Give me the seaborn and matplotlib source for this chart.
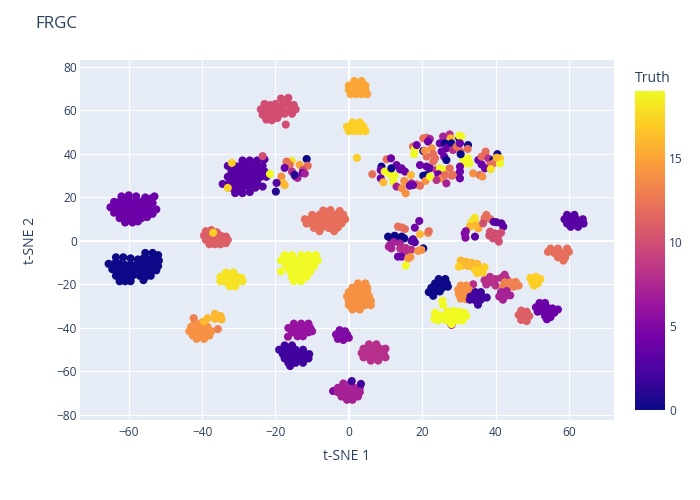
import matplotlib
matplotlib.use("Agg")
import matplotlib.pyplot as plt
import seaborn as sns
import pandas as pd
from matplotlib.colors import LinearSegmentedColormap, Normalize
from matplotlib.cm import ScalarMappable

# ---------------- data (t-SNE 1, t-SNE 2) per cluster, with Truth label ----------------
A_truth = 4
A_pts = [(-62,20.5),(-60,21),(-58,20.5),(-55.5,20),(-54,19.5),(-53,20.5),
         (-64,18),(-62.5,18),(-61,18.5),(-59.5,18),(-58,18),(-56.5,18),(-55,17.5),(-53.5,17.5),
         (-65,15.5),(-63.5,15.5),(-62,15.5),(-60.5,15.5),(-59,15.5),(-57.5,15.5),(-56,15.5),(-54.5,15),(-52.5,14.5),
         (-64,13),(-62.5,13),(-61,13),(-59.5,13),(-58,13),(-56.5,13),(-55,13),(-53.5,12.5),
         (-62.5,10.5),(-61,10.5),(-59.5,10.5),(-58,10.5),(-56.5,10.5),(-55,11),
         (-61,8.5),(-59,8.5),(-57.5,9)]
B_truth = 0
B_pts = [(-55.5,-5.5),(-53.5,-5.5),(-52,-6.5),
         (-63.5,-7.5),(-61.5,-7.5),(-59.5,-8),(-57.5,-8.5),(-56,-8),(-54.5,-8.5),(-53,-8.5),(-51.8,-9),
         (-65.5,-10.5),(-64,-10.5),(-62.5,-10.5),(-61,-11),(-59.5,-11),(-58,-11),(-56.5,-11),(-55,-11),(-53.5,-11.5),(-52,-11.5),
         (-64.5,-13),(-63,-13.5),(-61.5,-13.5),(-60,-13.5),(-58.5,-13.5),(-57,-13.5),(-55.5,-14),(-54,-14),(-52.5,-13.5),
         (-63.5,-16),(-62,-16),(-60.5,-16),(-59,-16),(-57,-16),(-55.5,-16.5),(-54,-16),
         (-62.5,-18.5),(-61,-18.5),(-59.5,-18.5),(-56,-18)]
C_truth = 10
C_pts = [(-18.5,65.5),(-16.5,65.8),(-17.5,64),
         (-23,63),(-21.5,62.5),(-20,63),(-18,62.5),(-16.5,63),(-15,62.5),
         (-24,60.5),(-22.5,60.5),(-21,60.5),(-19.5,60.5),(-18,60.5),(-16,60),(-14.5,60.5),
         (-23.5,58),(-22,58),(-20.5,58),(-19,58),(-17.5,58.5),(-15.5,58.5),
         (-22.5,55.8),(-21,55.5),(-19.5,56.5),(-17.2,53.5)]
D_truth = 3
D_pts = [(-29,37),(-27,37),(-25,37),(-23,37.5),
         (-33,34.5),(-31,34.5),(-29.5,34.5),(-28,34.5),(-26.5,34.5),(-25,34.5),(-23.5,34.5),
         (-32,32),(-30.5,32),(-29,32),(-27.5,32),(-26,32),(-24.5,32),(-23,32),
         (-33,29.5),(-31.5,29.5),(-30,29.5),(-28.5,29.5),(-27,29.5),(-25.5,29.5),(-24,29.5),(-22.5,29.5),
         (-32.5,27),(-31,27),(-29.5,27),(-28,27),(-26.5,27),(-25,27),
         (-32,24.5),(-30.5,24.5),(-29,24.5),(-27,24.5),(-25.5,24.5),(-23.5,25),
         (-31,22),(-29,22),(-27,22.5),(-34.4,26.2)]
F_truth = 12
F_pts = [(-7,14),(-5,14.2),(-2.5,13.8),
         (-10,12),(-8,12),(-6.5,12),(-5,12),(-3.5,12),(-1.5,12),
         (-12,10),(-10.5,10),(-9,10),(-7.5,10),(-6,10),(-4.5,10),(-3,10),(-1,10),
         (-11.5,8),(-10,8),(-8.5,8),(-7,8),(-5.5,8),(-4,8),(-2,8),
         (-9.5,6),(-7.5,6),(-5.5,6),(-3,6.2),(-8,4.5),(-4,4.5)]
G_truth = 11
G_pts = [(-39,4.5),(-37.5,5),(-36,4),
         (-39.5,2.5),(-38,2.5),(-36.5,2.5),(-35,2.5),(-33.5,2),
         (-39,0.5),(-37.5,0.5),(-36,0.5),(-34.5,0.5),(-33,0.5),
         (-38,-1.5),(-36.5,-1.5),(-35,-1.5),(-33.5,-1)]
H_truth = 18
H_pts = [(-33.5,-14.5),(-31.5,-14.5),
         (-35,-16.5),(-33.5,-16.5),(-32,-16.5),(-30.5,-16.5),(-29.3,-17),
         (-35,-18.5),(-33.5,-18.8),(-32,-18.8),(-30.5,-18.8),(-29,-18.5),
         (-32.5,-20.8),(-31,-20.8)]
I_truth = 19
I_pts = [(-17.5,-6.5),(-15.5,-6.5),(-13,-6.5),(-11,-6.5),(-9,-6.5),
         (-18.5,-9),(-16.5,-9),(-14.5,-9),(-12.5,-9),(-10.5,-9),(-8.5,-9),
         (-17,-11.5),(-15,-11.5),(-13,-11.5),(-11,-11.5),(-9.5,-11.5),
         (-18.5,-14),(-16,-14),(-14,-14),(-12,-14),(-10.5,-14),
         (-15.5,-16.5),(-13.5,-16.5),(-11.5,-16.5),(-15,-18.5),(-13,-18.5)]
J_truth = 14
J_pts = [(-42,-37.5),(-40,-37.5),
         (-43,-39.5),(-41.5,-39.5),(-40,-39.5),(-38.5,-39.5),
         (-43.5,-41.5),(-42,-41.5),(-40.5,-41.5),(-39,-41.5),(-37.5,-41.5),
         (-42.5,-43.5),(-41,-43.5),(-39.5,-43.5),(-38,-43.5),
         (-41.5,-45),(-39.5,-45)]
J2_truth = 16
J2_pts = [(-36.5,-33.5),(-35,-34.5),(-38.5,-35.5),(-36.5,-35.8),(-34.7,-36),(-39.5,-37)]
K_truth = 6
K_pts = [(-15,-38),(-13,-38),(-11,-38),
         (-16.5,-40),(-15,-40),(-13.5,-40),(-12,-40),(-10.5,-40),
         (-15.5,-42),(-14,-42),(-12.5,-42),(-11,-42),(-10,-41.5),
         (-14,-43.8),(-12.5,-43.8),(-16.6,-44)]
L_truth = 2
L_pts = [(-17.5,-48),(-15.5,-48),
         (-19,-50),(-17.5,-50),(-16,-50),(-14.5,-50),(-12.5,-50),
         (-18,-52),(-16.5,-52),(-15,-52),(-13.5,-52),(-12,-52),(-10.8,-52),
         (-17.5,-54),(-16,-54),(-14,-54),(-12.5,-54),(-11,-54),
         (-16.5,-56),(-14.5,-56),(-12.5,-56),(-16,-57.5)]
M_truth = 5
M_pts = [(-2.5,-41),(-1,-41.5),(-3.5,-43),(-2,-43.5),(-0.5,-43),(-3,-45),(-1.5,-45.5),(0,-44.5),(-4.3,-69)]
N_truth = 7
N_pts = [(-1.5,-65.5),(0.5,-65.5),
         (-3,-67.5),(-1.5,-67.5),(0,-67.5),(1.5,-67.5),(3,-67.5),
         (-3,-69.5),(-1.5,-69.5),(0,-69.5),(1.5,-69.5),(3,-69.5),
         (-2,-71.5),(-0.5,-71.5),(1,-71.5),(2.5,-71.5),(-0.5,-73),(1,-73)]
O_truth = 8
O_pts = [(5.5,-47.5),(7.5,-47.5),
         (4,-49.5),(5.5,-49.5),(7,-49.5),(8.5,-49.5),(10,-49.5),
         (3.5,-51.5),(5,-51.5),(6.5,-51.5),(8,-51.5),(9.5,-51.5),
         (4,-53.5),(5.5,-53.5),(7,-53.5),(8.5,-53.5),(10,-53.5),(6,-55),(8,-55),
         (37,-18),(38.5,-16.5),(38.5,-19),(40,-17.5),(40,-20.5),(41.5,-17),(42.5,-15.5),(43,-17.5),(37.5,-20),(33.9,-19.9)]
P_truth = 14
P_pts = [(2.5,-19.5),(4.5,-19.5),
         (1,-21.5),(3,-21.5),(5,-21.5),
         (0,-23.5),(2,-23.5),(3.5,-23.5),(5,-23.5),
         (-0.5,-25.5),(1,-25.5),(2.5,-25.5),(4,-25.5),(5.5,-25.5),
         (0,-27.5),(1.5,-27.5),(3,-27.5),(4.5,-27.5),(6,-27.5),
         (0,-29.5),(1.5,-29.5),(3,-29.5),(4.5,-29.5),(6,-29.5),(1,-31.5),(3,-31.5),
         (30.5,-20.5),(32,-20.5),(29.8,-22.5),(31.3,-22.5),(32.8,-22.5),
         (30,-24.5),(31.5,-24.5),(33,-24.5),(30.5,-26.5),(32,-26.8)]
Q_truth = 15
Q_pts = [(1.5,73.5),(3.5,73.5),(0,71.5),(1.5,71.5),(3,71.5),(4.5,71.5),
         (0,69.5),(1.5,69.5),(3,69.5),(4.5,69.5),(0.5,67.5),(2,67.5),(3.5,67.5),(5,67.5)]
R_truth = 17
R_pts = [(1,54.5),(3,54.5),(-0.5,52.5),(1,52.5),(2.5,52.5),(4,52.5),
         (0,50.5),(1.5,50.5),(3,50.5),(4.5,50.5),(2.2,38.2),
         (49.5,-17),(51,-16.5),(52.2,-17.5),(50,-19),(51.5,-19.5),(50.5,-20.5)]
T_truth = 3
T_pts = [(59.5,12),(61.5,12),(58.8,10),(60.5,10),(62,10),(63.8,10),
         (59.5,8),(61,8),(62.5,8),(64,8),(60.5,6.5),(62.5,6.5)]
W_truth = 12
W_pts = [(55,-3.5),(57,-3.5),(59.5,-3.5),(54.3,-5),(56,-5.5),(58,-5.5),(60,-5),
         (57,-7.5),(59,-7.5),(58.5,-9)]
Z_truth = 13
Z_pts = [(42.5,-19),(44,-19),(45.5,-18.8),(42,-21),(43.5,-21),(45,-21),(46.3,-20.5),(43,-22.5),
         (-42.3,-35.5),(-35.7,-40.5)]
AB_truth = 7
AB_pts = [(41.5,-23.5),(43,-23),(41,-25.5),(42.5,-25.5),(44,-25),(42,-27),(28,-38.6)]
AC_truth = 0
AC_pts = [(24.5,-17.5),(26.3,-17.5),(23.5,-19.5),(25,-19.5),(26.7,-19.5),
          (22.5,-21.5),(24,-21.5),(25.5,-21.5),(27,-21),
          (21.8,-23.5),(23.3,-23.5),(24.8,-23.2),(23,-25.2)]
AE_truth = 2
AE_pts = [(34.5,-23.5),(36,-23.5),(33.2,-25.5),(34.8,-25.5),(36.3,-25.5),(37.6,-26),
          (33,-27),(34.5,-27.3),(36,-27),(35.2,-29.3),(0.8,-64.4),(3.3,-65.7)]
AF_truth = 19
AF_pts = [(27,-32.5),(28.5,-32.2),(30,-32.5),(31.5,-33),
          (26,-34.5),(27.5,-34.5),(29,-34.5),(30.5,-34.5),(32,-34.5),
          (26.5,-36.5),(28,-36.5),(29.5,-36.5),(31,-36.5),(28,-38.2),
          (23.5,-33),(24.5,-34),(23.3,-35.8),(24.3,-36.5),(25.5,-27.5),(25.7,-29.5)]
AG_truth = 11
AG_pts = [(47,-32),(48.5,-32.5),(46.3,-34),(47.8,-34.3),(49.2,-34.5),(47,-36.3),(48.5,-36.8)]
AH_truth = 4
AH_pts = [(52,-28.5),(53.5,-28.5),(51,-30.5),(52.5,-30.5),(54,-30.5),(55.5,-31),(57,-31.5),
          (51.5,-32.5),(53,-32.5),(54.5,-32.5),(56,-33),(53.5,-34.5),(55,-35),(54,-36)]
X1_truth = 16
X1_pts = [(30.5,-9),(32,-9.5),(33.5,-10),(35,-10.5),(31,-11.2),(32.5,-11.5),(34,-12)]
X2_truth = 17
X2_pts = [(30,-11.8),(34.5,-13.5),(36,-13),(37,-12),(35,-14.8),(36.5,-14.5),
          (-31.9,35.9),(-33,24.4),(-37,3.8)]

# mixed clusters: x, y, truth
mixed_x = [-21.5,-23.5,
           -15.6,-17,-16.1,-13.4,-11.5,-11.2,-12.5,-17.5,-15.5,-14.5,-14,-14.8,-18.4,-18,-17.5,-19.7,-19.9,-12.6,-12,
           19.2,13.4,15.3,14.5,18,19.4,21.6,21.8,10.7,12.5,14.4,15.1,13.3,11.5,11.2,11.6,10.9,12.2,13.9,
           14.8,16.2,15.5,14,17,17.1,18,17.5,20.3,18.9,19.8,13.4,14.4,16.2,16.8,15.5,
           34.3,34.4,33.4,33,35.3,34.5,37.5,38.5,37,36.6,40.3,41.6,42.1,39.5,38.5,39.8,40.7,39.3,40.9,38.3,41.5,
           31.6,31.8,34.4,31.9,
           6.4,10.3,11.5,8.9,8.7,9.8,11.2,12.5,13,14.4,14,15.3,11.6,12.1,8.7,9.4,13,15.1,14.5,15.5,17.1,16.6,
           18.5,19.4,16.9,19.4,20.3,21.2,20.9,
           20.3,21.2,22.1,21.6,17.5,18,17.8,18.5,20.3,21.2,22.6,23,23.5,23,25.7,27.5,27.8,24.8,26.2,28,26.6,
           25.3,26,26.6,28.4,29.4,30.3,30.1,30.1,30.7,30.3,32.5,32.4,21.2,22.1,23.9,24.8,26.2,27.5,24.4,25.3,
           26.2,28,28.6,23.9,26.6,30.3,30.3,22.1,20.7,17.5,
           31.2,32.5,31.6,32.9,35.3,36.2,36.2,37.3,38,39.4,40.5,39.4,38.5,41.2,41.2,40.3,37.1,38.7,35.7,36.4,
           33.9,30.3,30.5]
mixed_y = [30.8,39,
           36.8,36.5,35,35,37.7,34.6,32.6,33.6,31.9,29.6,29,30.4,29.6,26.7,25.7,26.7,22.7,31.3,31,
           9.2,6.6,5.5,6.2,6.1,3.1,3.6,4.5,2,2.4,2,1.2,1.4,1.2,-1.8,-3.4,-2.6,-0.5,-1.1,
           -4.1,-4.9,-3.2,-3.5,-4,0,-0.6,0.8,-3.4,-4.6,-4.1,-7.2,-7.2,-8,-7.4,-11.3,
           10.7,8.9,8.5,6.6,5.8,7.2,12,10.1,10.5,8.1,8.6,8.1,6.6,8.8,4.3,3.5,2,1.2,-0.3,2.5,3.8,
           3.5,1.5,2,4.5,
           30.7,37.6,38,34.2,32.6,31.9,30.7,30,34.9,33.4,32.9,31.9,33.4,27.3,28.8,27,25,27.6,24.2,21.9,26.5,25.4,
           26,25.4,30.3,34.9,30,30.3,27.6,
           47.2,47.5,46.9,45.7,43.4,42.3,39.9,44.1,41.4,38.8,42.6,39.9,38,36.5,48,49,47.2,44.9,44.9,44.9,42.6,
           41.1,38.8,37.2,41.8,43.4,41.4,47.2,48.4,48,44.9,44.1,42.3,34.2,33.4,32.6,33.4,32.6,33.4,30.7,28.8,
           30.3,30,30.3,28,26.5,28.8,31.9,29.6,41.5,25.7,
           37.2,38,35.7,35.7,37.2,35.2,38.8,41.1,38,37.2,39.9,35.7,34.9,38,35.7,38.3,33.4,33,30.3,29.6,
           31.1,34.2,39.9]
mixed_truth = [19,10,
               18,12,12,15,0,12,10,4,8,3,7,1,14,16,16,3,1,4,7,
               4,12,12,12,4,16,14,12,0,0,0,0,0,0,7,7,7,7,7,
               8,8,8,8,8,3,3,3,0,14,14,4,4,14,14,19,
               18,18,18,16,15,16,12,12,12,10,3,3,3,3,10,10,10,10,10,10,10,
               5,5,3,5,
               12,12,4,0,4,19,19,19,4,4,4,4,0,19,4,16,7,14,14,14,7,4,
               12,12,16,4,0,0,14,
               12,12,7,4,12,19,19,4,0,12,14,12,12,12,7,8,16,4,0,0,4,
               4,4,0,8,12,12,0,19,19,4,0,12,4,3,8,19,19,12,4,14,
               12,12,12,8,7,4,4,19,14,4,
               19,19,19,19,4,4,12,12,8,0,0,12,12,17,19,16,4,18,12,14,
               14,4,0]

tick_x = [-60, -40, -20, 0, 20, 40, 60]
tick_y = [-80, -60, -40, -20, 0, 20, 40, 60, 80]
cbar_ticks = [0, 5, 10, 15]
title_text = "FRGC"
xlabel_text = "t-SNE 1"
ylabel_text = "t-SNE 2"
cbar_title = "Truth"

# ---------------- build table ----------------
groups = [(A_pts, A_truth), (B_pts, B_truth), (C_pts, C_truth), (D_pts, D_truth),
          (F_pts, F_truth), (G_pts, G_truth), (H_pts, H_truth), (I_pts, I_truth),
          (J_pts, J_truth), (J2_pts, J2_truth), (K_pts, K_truth), (L_pts, L_truth),
          (M_pts, M_truth), (N_pts, N_truth), (O_pts, O_truth), (P_pts, P_truth),
          (Q_pts, Q_truth), (R_pts, R_truth), (T_pts, T_truth), (W_pts, W_truth),
          (Z_pts, Z_truth), (AB_pts, AB_truth), (AC_pts, AC_truth), (AE_pts, AE_truth),
          (AF_pts, AF_truth), (AG_pts, AG_truth), (AH_pts, AH_truth),
          (X1_pts, X1_truth), (X2_pts, X2_truth)]
rows = []
for pts, t in groups:
    for (px, py) in pts:
        rows.append((px, py, t))
for px, py, t in zip(mixed_x, mixed_y, mixed_truth):
    rows.append((px, py, t))
df = pd.DataFrame(rows, columns=["x", "y", "truth"])

# ---------------- style ----------------
sns.set_theme(style="darkgrid")
plt.rcParams["font.family"] = ["Open Sans", "DejaVu Sans"]
text_color = "#2a3f5f"
plasma_stops = ["#0d0887", "#46039f", "#7201a8", "#9c179e", "#bd3786",
                "#d8576b", "#ed7953", "#fb9f3a", "#fdca26", "#f0f921"]
cmap = LinearSegmentedColormap.from_list("plotly_plasma", plasma_stops)
vmin, vmax = 0, 19

fig = plt.figure(figsize=(7, 5), dpi=100)
fig.patch.set_facecolor("white")
ax = fig.add_axes([80/700, 80/500, 534/700, 360/500])
ax.set_facecolor("#E5ECF6")

sns.scatterplot(data=df, x="x", y="y", hue="truth", palette=cmap, hue_norm=(vmin, vmax),
                s=34, linewidth=0, legend=False, ax=ax, zorder=2)

ax.set_xlim(-73.3, 72.3)
ax.set_ylim(-82.3, 83.2)
ax.set_xticks(tick_x)
ax.set_yticks(tick_y)
ax.grid(True, color="white", linewidth=0.75)
ax.set_axisbelow(True)
ax.axhline(0, color="white", linewidth=1.5, zorder=1)
ax.axvline(0, color="white", linewidth=1.5, zorder=1)
for s in ax.spines.values():
    s.set_visible(False)
ax.tick_params(axis="both", length=0, labelsize=8.6, labelcolor=text_color)
ax.tick_params(axis="x", pad=4)
ax.tick_params(axis="y", pad=2)
ax.set_xlabel("")
ax.set_ylabel("")

fig.text(35/700, 1 - 24/500, title_text, ha="left", va="center", fontsize=12.2, color=text_color)
fig.text(347/700, 1 - 456/500, xlabel_text, ha="center", va="center", fontsize=10.1, color=text_color)
fig.text(30/700, 1 - 240/500, ylabel_text, ha="center", va="center", rotation=90, fontsize=10.1, color=text_color)

cax = fig.add_axes([635/700, (500-410)/500, 30/700, 319.5/500])
sm = ScalarMappable(norm=Normalize(vmin=vmin, vmax=vmax), cmap=cmap)
cb = fig.colorbar(sm, cax=cax, ticks=cbar_ticks)
cb.outline.set_visible(False)
cax.tick_params(length=0, labelsize=8.6, labelcolor=text_color, pad=3)
fig.text(635/700, 1 - 79/500, cbar_title, ha="left", va="center", fontsize=10.1, color=text_color)

fig.savefig("out.png", dpi=100)
